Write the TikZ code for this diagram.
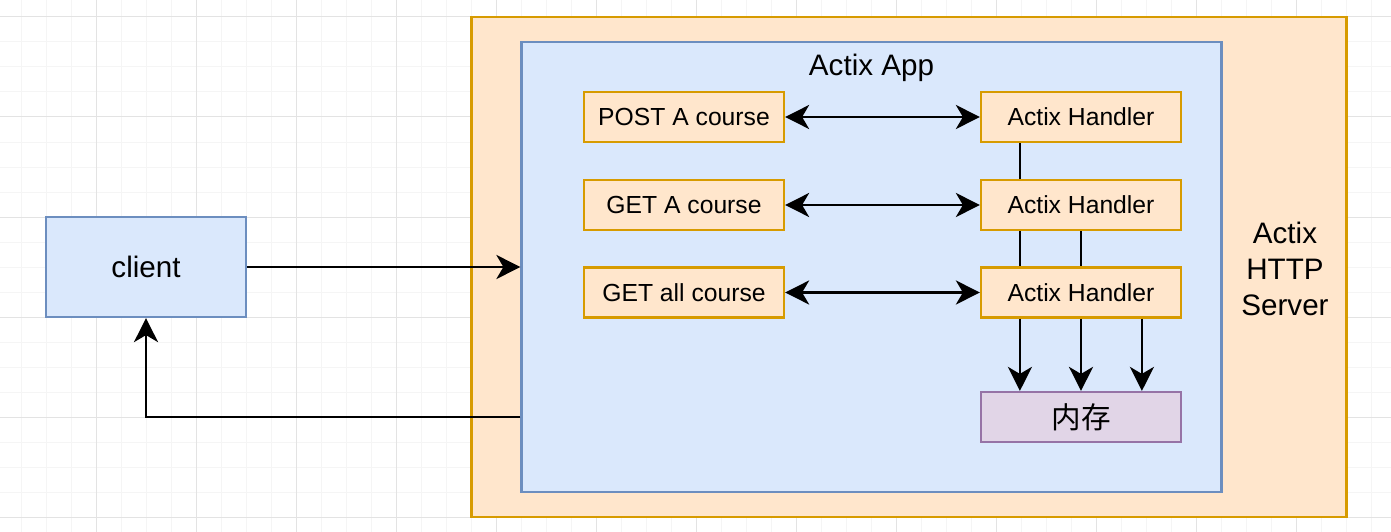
\documentclass[tikz,border=0pt]{standalone}
\usepackage{fontspec}
\setmainfont{Liberation Sans}
\newfontfamily\cjk{Noto Sans CJK SC}
\usetikzlibrary{arrows.meta,calc}
\definecolor{orfill}{HTML}{FFE6CC}
\definecolor{orline}{HTML}{D79B00}
\definecolor{blfill}{HTML}{DAE8FC}
\definecolor{blline}{HTML}{6C8EBF}
\definecolor{pufill}{HTML}{E1D5E7}
\definecolor{puline}{HTML}{9673A6}
\definecolor{gridmajor}{HTML}{E3E3E3}
\definecolor{gridminor}{HTML}{F5F5F5}
\tikzset{
  box/.style={rectangle, draw, line width=2.2pt, inner sep=0pt},
  orbox/.style={box, fill=orfill, draw=orline},
  blbox/.style={box, fill=blfill, draw=blline},
  pubox/.style={box, fill=pufill, draw=puline},
  smallbox/.style={minimum width=200pt, minimum height=50pt, font=\fontsize{24.7}{30}\selectfont},
  bigfont/.style={font=\fontsize{29.6}{36}\selectfont},
  conn/.style={line width=2.7pt, draw=black},
  tip/.style={-{Stealth[length=24pt,width=24pt,inset=7pt]}},
  dtip/.style={{Stealth[length=24pt,width=24pt,inset=7pt]}-{Stealth[length=24pt,width=24pt,inset=7pt]}},
}
\begin{document}
\begin{tikzpicture}[x=1pt,y=-1pt]
\useasboundingbox[fill=white] (0,0) rectangle (1391,532);
% grid
\foreach \k in {0,...,55} {
  \draw[gridminor, line width=1pt] (21.5+25*\k,0) -- (21.5+25*\k,532);
}
\foreach \k in {-1,...,21} {
  \draw[gridminor, line width=1pt] (0,17+25*\k) -- (1391,17+25*\k);
}
\foreach \k in {-1,...,13} {
  \draw[gridmajor, line width=1pt] (96.5+100*\k,0) -- (96.5+100*\k,532);
}
\foreach \k in {0,...,5} {
  \draw[gridmajor, line width=1pt] (0,17+100*\k) -- (1391,17+100*\k);
}
% containers
\node[orbox, minimum width=875pt, minimum height=500pt] (server) at (909,267) {};
\node[blbox, minimum width=700pt, minimum height=450pt] (app) at (871.5,267) {};
\node[bigfont, anchor=center] (applabel) at (871.5,68) {Actix App};
\node[bigfont, align=center] (serverlabel) at (1285,269) {Actix\\HTTP\\Server};
% client
\node[blbox, bigfont, minimum width=200pt, minimum height=100pt] (client) at (146,267) {client};
% routes
\node[orbox, smallbox] (r1) at (684,117) {POST A course};
\node[orbox, smallbox] (r2) at (684,205) {GET A course};
\node[orbox, smallbox] (r3) at (684,292.5) {GET all course};
% handlers
\node[orbox, smallbox] (h1) at (1081,117) {Actix Handler};
\node[orbox, smallbox] (h2) at (1081,205) {Actix Handler};
\node[orbox, smallbox] (h3) at (1081,292.5) {Actix Handler};
% memory
\node[pubox, minimum width=200pt, minimum height=50pt, font=\cjk\fontsize{29.6}{36}\selectfont] (mem) at (1081,417) {内存};
% connectors
\draw[conn, dtip] (r1.east) -- (h1.west);
\draw[conn, dtip] (r2.east) -- (h2.west);
\draw[conn, dtip] (r3.east) -- (h3.west);
\draw[conn] ($(h1.south west)+(40,0)$) -- ($(h2.north west)+(40,0)$);
\draw[conn] ($(h2.south west)+(40,0)$) -- ($(h3.north west)+(40,0)$);
\draw[conn] (h2.south) -- (h3.north);
\draw[conn, tip] ($(h3.south west)+(40,0)$) -- ($(mem.north west)+(40,0)$);
\draw[conn, tip] (h3.south) -- (mem.north);
\draw[conn, tip] ($(h3.south west)+(162,0)$) -- ($(mem.north west)+(162,0)$);
\draw[conn, tip] (client.east) -- (client.east -| app.west);
\draw[conn, tip] (app.west |- mem.center) -| (client.south);
\end{tikzpicture}
\end{document}
